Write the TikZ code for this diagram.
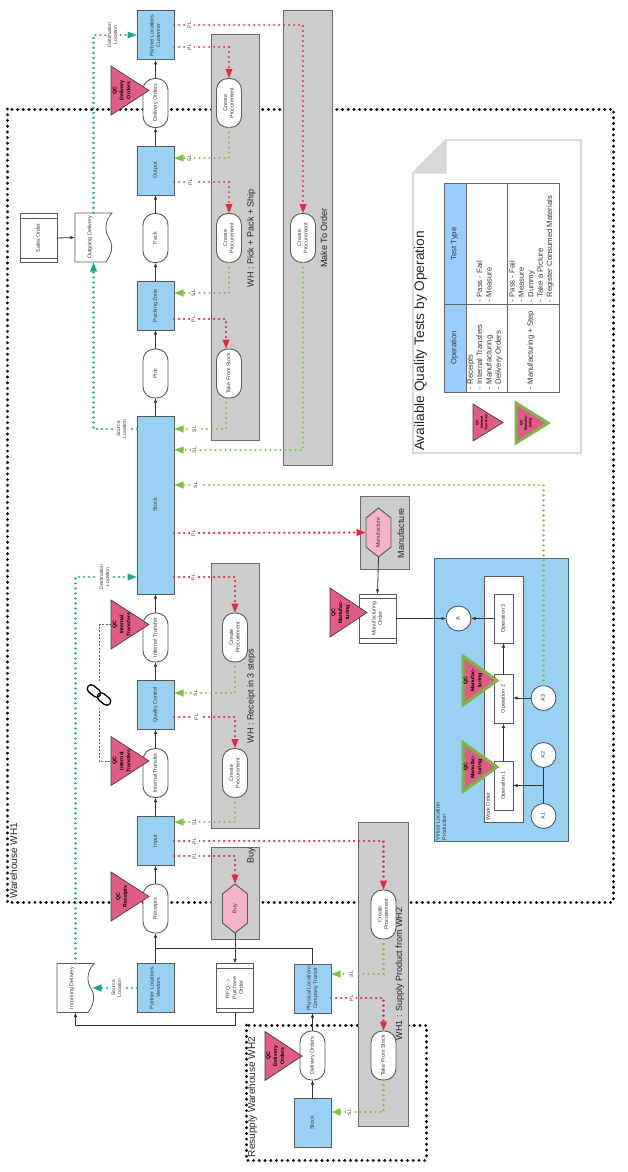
\documentclass[tikz,border=0pt]{standalone}
\usepackage{fontspec}
\usepackage{graphicx}
\setmainfont{Liberation Sans}
\usetikzlibrary{arrows.meta,calc}
\definecolor{locblue}{HTML}{99D1F5}
\definecolor{grp}{HTML}{CCCCCC}
\definecolor{edge}{HTML}{5A5A5A}
\definecolor{txt}{HTML}{3A3A3A}
\definecolor{qcpink}{HTML}{E05C85}
\definecolor{qcgreen}{HTML}{7AB648}
\definecolor{dred}{HTML}{E2293F}
\definecolor{dgreen}{HTML}{7CC142}
\definecolor{dteal}{HTML}{1AA88C}
\definecolor{hexpink}{HTML}{F4B3C8}
\definecolor{hdrblue}{HTML}{99CCFF}
\definecolor{vedge}{HTML}{46687C}
\newcommand\vtxt[1]{\rotatebox{90}{\begin{tabular}{@{}c@{}}#1\end{tabular}}}
\newcommand\vtxtl[1]{\rotatebox{90}{\begin{tabular}{@{}l@{}}#1\end{tabular}}}
\newcommand\qctri[7]{%
  \draw[#2] ({#3},{#4-#5}) -- ({#3},{#4+#5}) -- ({#3+#6},#4) -- cycle;
  \coordinate (#1) at (#3,#4);
  \node[qctxt] (#1t) at ({#3+0.29*#6},#4) {\vtxt{#7}};}
\newcommand\hexa[5]{% name, cx, cy, halfw, text
  \draw[hexs] (#2,{#3-24.5}) -- ({#2+#4},{#3-14.5}) -- ({#2+#4},{#3+14.5}) -- (#2,{#3+24.5}) -- ({#2-#4},{#3+14.5}) -- ({#2-#4},{#3-14.5}) -- cycle;
  \node[plainn,minimum width=25pt,minimum height=49pt] (#1) at (#2,#3) {\vtxt{#5}};}
\newcommand\docshape[4]{% name, left x, top y, text
  \begin{scope}[shift={(#2,#3)}]
  \draw[docs] (0,0) -- (37,0) .. controls (29,9) and (30,19) .. (34,25) .. controls (38,32) and (38,39) .. (31,49) -- (0,49) -- cycle;
  \node[plainn,minimum width=37pt,minimum height=49pt] (#1) at (18.5,24.5) {};
  \node[plainn] (#1t) at (15,24.5) {\vtxt{#4}};
  \end{scope}}
\newcommand\ordr[4]{% name, cx, cy, text
  \node[orderbox] (#1) at (#2,#3) {\vtxt{#4}};
  \draw[edge,line width=.8pt] ([yshift=-4.5pt]#1.north west) -- ([yshift=-4.5pt]#1.north east);
  \draw[edge,line width=.8pt] ([yshift=4.5pt]#1.south west) -- ([yshift=4.5pt]#1.south east);}
\tikzset{
  base/.style={inner sep=0pt,outer sep=0pt,text=txt,font=\fontsize{5.4}{6.6}\selectfont},
  plainn/.style={base},
  loc/.style={base,draw=edge,line width=1pt,fill=locblue,minimum width=37pt,minimum height=49pt},
  proc/.style={base,draw=edge,line width=.9pt,fill=white,rounded corners=11.5pt,minimum width=25pt,minimum height=49pt},
  orderbox/.style={base,draw=edge,line width=.8pt,fill=white,minimum width=37pt,minimum height=49pt},
  opbox/.style={base,draw=edge,line width=.9pt,fill=white,minimum width=19pt,minimum height=49pt},
  circ/.style={base,circle,draw=edge,line width=.9pt,fill=white,minimum size=25pt},
  hexs/.style={draw=edge,line width=.9pt,fill=hexpink},
  docs/.style={draw=edge,line width=.8pt,fill=white},
  group/.style={draw=edge!90,line width=1pt,fill=grp},
  grouplbl/.style={base,text=black!85,font=\fontsize{9}{10}\selectfont},
  dotbox/.style={draw=black,line width=3pt,line cap=round,dash pattern=on 0.2pt off 5.5pt},
  bigtxt/.style={base,text=black!85,font=\fontsize{10}{11}\selectfont},
  qc/.style={draw=black!75,line width=.7pt,fill=qcpink},
  qcg/.style={draw=qcgreen,line width=3pt,fill=qcpink,line join=miter},
  qctxt/.style={base,text=black,font=\fontsize{5.2}{7}\selectfont\bfseries},
  qcsmall/.style={base,text=black,font=\fontsize{3.5}{4.4}\selectfont\bfseries},
  flow/.style={draw=black!80,line width=.8pt,-{Latex[length=4.5pt,width=3.5pt]}},
  tag/.style={base,fill=white,inner sep=.6pt,text=txt,font=\fontsize{5}{6}\selectfont},
  pl/.style={draw=dred,line width=2pt,line cap=round,dash pattern=on 0.2pt off 4.8pt,-{Triangle[length=9.5pt,width=6.5pt]}},
  plx/.style={pl,line width=2.4pt},
  sl/.style={draw=dgreen,line width=2.1pt,line cap=round,dash pattern=on 0.2pt off 4.8pt,-{Triangle[length=9.5pt,width=6.5pt]}},
  tl/.style={draw=dteal,line width=2.1pt,line cap=round,dash pattern=on 0.2pt off 4.8pt,-{Triangle[length=9.5pt,width=6.5pt]}},
  tbl/.style={base,font=\fontsize{7.7}{9.4}\selectfont},
  linkline/.style={draw=black!60,line width=.6pt,dash pattern=on 2pt off 1.5pt},
  chain/.style={base,draw=black,line width=1.3pt,rounded corners=3.8pt,minimum width=15pt,minimum height=8pt,rotate=-39},
}
\begin{document}
\begin{tikzpicture}[x=1pt,y=-1pt]
\useasboundingbox (0,0) rectangle (627,1172);
\fill[white] (0,0) rectangle (627,1172);
% dotted warehouse frames
\draw[dotbox] (7,109) rectangle (613,902);
\draw[dotbox] (246,1025) rectangle (426,1160);
\node[bigtxt] (wh1lbl) at (15,861) {\vtxt{Warehouse WH1}};
\node[bigtxt] (wh2lbl) at (253,1097) {\vtxt{Resupply Warehouse WH2}};
% grey route groups
\draw[group] (211,35) rectangle (259,440);
\draw[group] (283,11) rectangle (332,465);
\draw[group] (211,563) rectangle (259,828);
\draw[group] (211,847) rectangle (259,939);
\draw[group] (358,822) rectangle (408,1126);
\draw[group] (360,496) rectangle (409,569);
\node[grouplbl] (g1) at (251.5,238) {\vtxt{WH : Pick + Pack + Ship}};
\node[grouplbl] (g2) at (325,238) {\vtxt{Make To Order}};
\node[grouplbl] (g3) at (251.5,696) {\vtxt{WH : Receipt in 3 steps}};
\node[grouplbl] (g4) at (251.5,856) {\vtxt{Buy}};
\node[grouplbl] (g5) at (400,974) {\vtxt{WH1 : Supply Product from WH2}};
\node[grouplbl] (g6) at (402,533) {\vtxt{Manufacture}};
% virtual location
\draw[draw=vedge,line width=1pt,fill=locblue] (434,558) rectangle (568,841);
\draw[edge,line width=.9pt,fill=white] (484,576) rectangle (523,822);
\node[base,anchor=south] (vl) at (441.5,840) {\vtxtl{Virtual Location\\Production}};
\node[base,anchor=south] (wo) at (488.5,820) {\vtxtl{Work Order}};
% locations
\node[loc] (cust) at (155.5,35.5) {\vtxt{Partner Locations\\Customer}};
\node[loc] (output) at (155.5,170.5) {\vtxt{Output}};
\node[loc] (packing) at (155.5,305.5) {\vtxt{Packing Zone}};
\node[loc,minimum height=178pt] (stock) at (155.5,505) {\vtxt{Stock}};
\node[loc] (qualc) at (155.5,705) {\vtxt{Quality Control}};
\node[loc] (input) at (155.5,841) {\vtxt{Input}};
\node[loc] (vend) at (155.5,988) {\vtxt{Partner Locations\\Vendors}};
\node[loc] (phys) at (312.5,988.5) {\vtxt{Physical Locations\\Company Transit}};
\node[loc] (stock2) at (312.5,1123) {\vtxt{Stock}};
% operations
\node[proc] (deliv) at (155.5,103) {\vtxt{Delivery Orders}};
\node[proc] (pack) at (155.5,238) {\vtxt{Pack}};
\node[proc] (pick) at (155.5,373.5) {\vtxt{Pick}};
\node[proc] (it2) at (155.5,637.5) {\vtxt{Internal Transfer}};
\node[proc] (it1) at (155.5,773) {\vtxt{Internal Transfer}};
\node[proc] (recp) at (155.5,908.5) {\vtxt{Receipts}};
\node[proc] (deliv2) at (312.5,1055.5) {\vtxt{Delivery Orders}};
% procurement rules
\node[proc] (cp1) at (229,103) {\vtxt{Create\\Procurement}};
\node[proc] (cp2) at (229,238) {\vtxt{Create\\Procurement}};
\node[proc] (tfs) at (229,373.5) {\vtxt{Take From Stock}};
\node[proc] (mto) at (303,238) {\vtxt{Create\\Procurement}};
\node[proc] (r2) at (235,637.5) {\vtxt{Create\\Procurement}};
\node[proc] (r1) at (235,773) {\vtxt{Create\\Procurement}};
\node[proc] (sup) at (383.5,914.5) {\vtxt{Create\\Procurement}};
\node[proc] (tfs2) at (383.5,1055.5) {\vtxt{Take From Stock}};
\hexa{buy}{235}{908.5}{12.5}{Buy}
\hexa{manu}{378.5}{532.5}{12.5}{Manufacture}
% documents
\docshape{ind}{57}{963.5}{Incoming Delivery}
\docshape{outd}{75}{213}{Outgoing Delivery}
\ordr{so}{38.5}{238}{Sales Order}
\ordr{po}{235}{988}{RFQ -$>$\\Purchase\\Order}
\ordr{mo}{377.5}{618.5}{Manufacturing\\Order}
% production
\node[opbox] (op1) at (503.5,785.5) {\vtxt{Operation 1}};
\node[opbox] (op2) at (503.5,699) {\vtxt{Operation 2}};
\node[opbox] (op3) at (503.5,618.5) {\vtxt{Operation 3}};
\node[circ] (a) at (458.5,618.5) {\vtxt{A}};
\node[circ] (a3) at (543.5,698) {\vtxt{A3}};
\node[circ] (a2) at (543.5,755) {\vtxt{A2}};
\node[circ] (a1) at (543.5,816) {\vtxt{A1}};
% quality control triangles
\qctri{q1}{qc}{111}{90.5}{24.5}{38}{QC\\Delivery\\Orders}
\qctri{q2}{qc}{111}{624.5}{24.5}{38}{QC\\Internal\\Transfers}
\qctri{q3}{qc}{111}{761}{24.5}{38}{QC\\Internal\\Transfers}
\qctri{q4}{qc}{111}{896.5}{24.5}{38}{QC\\Receipts}
\qctri{q5}{qc}{265}{1056}{24.5}{37}{QC\\Delivery\\Orders}
\qctri{q6}{qc}{330}{612.5}{24.5}{37}{QC\\Manufac-\\turing}
\qctri{q7}{qcg}{463}{680.5}{24.5}{34}{QC\\Manufac-\\turing}
\qctri{q8}{qcg}{463}{767}{24.5}{34}{QC\\Manufac-\\turing}
% solid flow
\coordinate (j) at (155.5,948);
\coordinate (ret) at (75.5,1025);
\draw[flow] (vend.north) -- (recp.south);
\draw[flow] (recp.north) -- (input.south);
\draw[flow] (input.north) -- (it1.south);
\draw[flow] (it1.north) -- (qualc.south);
\draw[flow] (qualc.north) -- (it2.south);
\draw[flow] (it2.north) -- (stock.south);
\draw[flow] (stock.north) -- (pick.south);
\draw[flow] (pick.north) -- (packing.south);
\draw[flow] (packing.north) -- (pack.south);
\draw[flow] (pack.north) -- (output.south);
\draw[flow] (output.north) -- (deliv.south);
\draw[flow] (deliv.north) -- (cust.south);
\draw[draw=black!80,line width=.8pt] (phys.north) |- (j);
\draw[flow] (buy.south) -- (po.north);
\draw[flow] (po.south) |- (ret) -- (ind.south);
\draw[flow] (so.east) -- (outd.west);
\draw[flow] (stock2.north) -- (deliv2.south);
\draw[flow] (deliv2.north) -- (phys.south);
\draw[flow] (manu.south) -- (mo.north);
\draw[flow] (mo.east) -- (a.west);
\draw[flow] (op3.west) -- (a.east);
\draw[flow] (op1.north) -- (op2.south);
\draw[flow] (op2.north) -- (op3.south);
\draw[flow] (a3.west) -- (op2.east |- a3.west);
\draw[draw=black!80,line width=.8pt] (a2.south) -- (a1.north);
\coordinate (aj) at (543.5,785.5);
\draw[flow] (aj) -- (op1.east);
% PL lines
\draw[pl] (cust.east |- 0,25) -| (mto.north);
\draw[pl] (cust.east |- 0,47) -| (cp1.north);
\draw[pl] (output.east |- 0,182) -| (cp2.north);
\draw[plx] (packing.east |- 0,319) -| ([xshift=-3pt]tfs.north);
\draw[plx] (stock.east |- 0,533) -- (manu.west);
\draw[plx] (stock.east |- 0,577) -| (r2.north);
\draw[plx] (qualc.east |- 0,717) -| (r1.north);
\draw[plx] (input.east |- 0,856) -| (buy.north);
\draw[plx] (input.east |- 0,841) -| (sup.north);
\draw[plx] (phys.east |- 0,998) -| (tfs2.north);
% SL lines
\draw[sl] (cp1.south) |- (output.east |- 0,158);
\draw[sl] (cp2.south) |- (packing.east |- 0,293);
\draw[sl] ([xshift=-3pt]tfs.south) |- (stock.east |- 0,429);
\draw[sl] (mto.south) |- (stock.east |- 0,450);
\draw[sl] (a3.north) |- (stock.east |- 0,485);
\draw[sl] (r2.south) |- (qualc.east |- 0,693);
\draw[sl] (r1.south) |- (input.east |- 0,822);
\draw[sl] (sup.south) |- (phys.east |- 0,974);
\draw[sl] (tfs2.south) |- (stock2.east |- 0,1112);
% location lines
\coordinate (indw) at (92,988);
\draw[tl] (vend.west) -- (indw);
\draw[tl] (ind.north) |- (stock.west |- 0,577);
\draw[tl] (stock.west |- 0,429) -| (outd.south);
\draw[tl] (outd.north) |- (cust.west |- 0,35);
% tags
\node[tag] (t1) at (190,25) {\vtxt{PL}};
\node[tag] (t2) at (190,47) {\vtxt{PL}};
\node[tag] (t3) at (190,158) {\vtxt{SL}};
\node[tag] (t4) at (191,182) {\vtxt{PL}};
\node[tag] (t5) at (194,293) {\vtxt{SL}};
\node[tag] (t6) at (194,319) {\vtxt{PL}};
\node[tag] (t7) at (195,429) {\vtxt{SL}};
\node[tag] (t8) at (195,450) {\vtxt{SL}};
\node[tag] (t9) at (196,485) {\vtxt{SL}};
\node[tag] (t10) at (194,533) {\vtxt{PL}};
\node[tag] (t11) at (194,577) {\vtxt{PL}};
\node[tag] (t12) at (196,693) {\vtxt{SL}};
\node[tag] (t13) at (197,717) {\vtxt{PL}};
\node[tag] (t14) at (195,822) {\vtxt{SL}};
\node[tag] (t15) at (195,841) {\vtxt{PL}};
\node[tag] (t16) at (195,856) {\vtxt{PL}};
\node[tag] (t17) at (352,974) {\vtxt{SL}};
\node[tag] (t18) at (352,998) {\vtxt{PL}};
\node[tag] (t19) at (350,1112) {\vtxt{SL}};
\node[tag] (d1) at (113,35) {\vtxt{Destination\\Location}};
\node[tag] (d2) at (122,429) {\vtxt{Source\\Location}};
\node[tag] (d3) at (105,577) {\vtxt{Destination\\Location}};
\node[tag] (d4) at (117,988) {\vtxt{Source\\Location}};
% linked quality checks
\coordinate (lnk) at (99,624.5);
\draw[linkline] (q2) -- (lnk) -- (lnk |- q3) -- (q3);
\fill[white] (87,681) rectangle (112,708);
\node[chain] (ch1) at (94,691) {};
\node[chain] (ch2) at (104,699) {};
% note sheet
\draw[draw=black!15,line width=2pt,fill=white] (446,140) -- (581,140) -- (581,453) -- (413,453) -- (413,173) -- cycle;
\draw[draw=black!15,line width=1pt,fill=black!15] (446,140) -- (446,173) -- (413,173) -- cycle;
\node[base,text=black!85,font=\fontsize{13.7}{15}\selectfont] (title) at (421,341) {\vtxt{Available Quality Tests by Operation}};
\fill[hdrblue] (444,183) rectangle (466,392);
\draw[draw=black!60,line width=.7pt] (444,183) rectangle (559,392);
\draw[draw=black!60,line width=.7pt] (466,183) -- (466,392);
\draw[draw=black!60,line width=.7pt] (507,183) -- (507,392);
\draw[draw=black!60,line width=.7pt] (444,304) -- (559,304);
\node[tbl] (h1) at (454.5,348) {\vtxt{Operation}};
\node[tbl] (h2) at (454.5,244) {\vtxt{Test Type}};
\node[tbl,anchor=south] (c1) at (485,389) {\vtxtl{- Receipts\\- Internal Transfers\\- Manufacturing\\- Delivery Orders}};
\node[tbl,anchor=south] (c2) at (485,302) {\vtxtl{- Pass - Fail\\- Measure}};
\node[tbl,anchor=south] (c3) at (531,389) {\vtxtl{- Manufacturing + Step}};
\node[tbl,anchor=south] (c4) at (531.5,302) {\vtxtl{- Pass - Fail\\- Measure\\- Dummy\\- Take a Picture\\- Register Consumed Materials}};
\draw[qc] (473,404) -- (473,441) -- (503,422.5) -- cycle;
\node[qcsmall] (l1) at (482,422.5) {\vtxt{QC\\Internal\\Transfers}};
\draw[qcg] (516,403) -- (516,443) -- (548,423) -- cycle;
\node[qcsmall] (l2) at (526,423) {\vtxt{QC\\Manufac-\\turing}};
\end{tikzpicture}
\end{document}
